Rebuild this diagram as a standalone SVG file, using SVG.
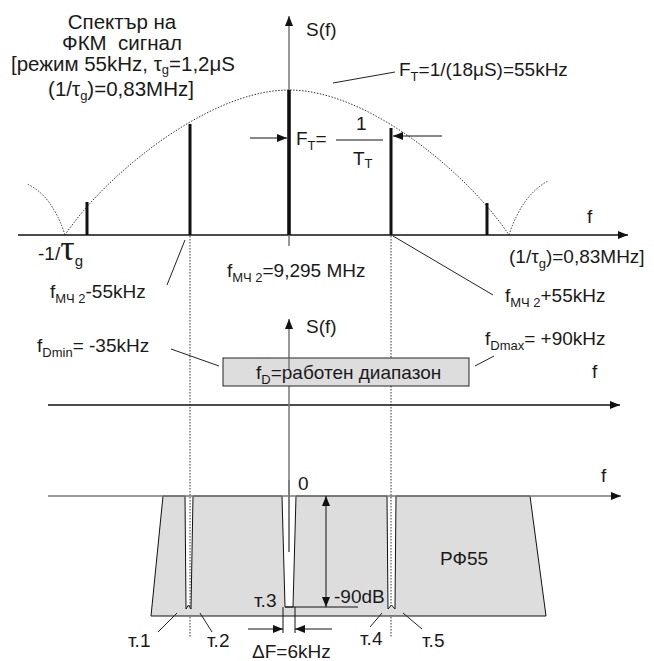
<svg xmlns="http://www.w3.org/2000/svg" width="654" height="661" viewBox="0 0 654 661">
<style>
text{font-family:"Liberation Sans",Arial,sans-serif;font-size:19px;fill:#1a1a1a}
.big{font-size:20.5px}
.sub{font-size:13px}
.ax{stroke:#111;stroke-width:1.3;fill:none}
.gax{stroke:#777;stroke-width:1.5;fill:none}
.dot{stroke:#333;stroke-width:1;stroke-dasharray:1.5 1.5;fill:none}
.spk{stroke:#111;stroke-width:3;fill:none}
.thin{stroke:#111;stroke-width:1;fill:none}
.lead{stroke:#222;stroke-width:1;fill:none}
</style>
<defs>
<marker id="ah" viewBox="0 0 10 8" refX="10" refY="4" markerWidth="10" markerHeight="8" markerUnits="userSpaceOnUse" orient="auto">
<path d="M0,0 L10,4 L0,8 Z" fill="#111"/>
</marker>
</defs>
<rect width="654" height="661" fill="#fff"/>

<g id="top-axes">
<line class="ax" x1="18" y1="235" x2="628" y2="235" marker-end="url(#ah)"/>
<line class="gax" x1="289" y1="246" x2="289" y2="16" marker-end="url(#ah)"/>
</g>
<g id="envelope">
<path class="dot" d="M65,235 C105,175 209,90 289,90 C369,90 469,175 509,235"/>
<path class="dot" d="M65,235 Q52,195 27,184"/>
<path class="dot" d="M509,235 Q522,195 548,181"/>
</g>
<g id="spectral-lines">
<line class="spk" x1="87" y1="235" x2="87" y2="202"/>
<line class="spk" x1="190" y1="235" x2="190" y2="124"/>
<line class="spk" x1="289" y1="235" x2="289" y2="90" style="stroke-width:3.6"/>
<line class="spk" x1="391" y1="235" x2="391" y2="128"/>
<line class="spk" x1="487" y1="235" x2="487" y2="203"/>
</g>
<g id="guides">
<line class="dot" x1="190" y1="236" x2="190" y2="638"/>
<line class="dot" x1="391" y1="236" x2="391" y2="638"/>
</g>
<g id="top-labels">
<text class="big" x="122" y="29" text-anchor="middle">Спектър на</text>
<text class="big" x="122" y="50" text-anchor="middle">ФКМ&#160; сигнал</text>
<text class="big" x="123" y="71" text-anchor="middle">[режим 55kHz, τ<tspan class="sub" dy="3">g</tspan><tspan dy="-3">=1,2μS</tspan></text>
<text class="big" x="121" y="96" text-anchor="middle">(1/τ<tspan class="sub" dy="4">g</tspan><tspan dy="-4">)=0,83MHz]</tspan></text>
<text x="306" y="36">S(f)</text>
<text x="399" y="76">F<tspan class="sub" dy="5">T</tspan><tspan dy="-5">=1/(18μS)=55kHz</tspan></text>
<line class="lead" x1="333" y1="83" x2="395" y2="72"/>
<text x="296" y="145">F<tspan class="sub" dy="5">T</tspan><tspan dy="-5">=</tspan></text>
<text x="356" y="130">1</text>
<line class="thin" x1="336" y1="140" x2="383" y2="140"/>
<text x="353" y="165">T<tspan class="sub" dy="3">T</tspan></text>
<line class="thin" x1="250" y1="138" x2="287" y2="138" marker-end="url(#ah)"/>
<line class="thin" x1="442" y1="136" x2="393" y2="136" marker-end="url(#ah)"/>
<text x="587" y="223">f</text>
<text x="38" y="260">-1/<tspan style="font-family:'Liberation Serif',serif;font-size:36px">τ</tspan><tspan class="sub" dx="0" dy="6" style="font-size:15px">g</tspan></text>
<text x="509" y="263">(1/τ<tspan class="sub" dy="5">g</tspan><tspan dy="-5">)=0,83MHz]</tspan></text>
<text x="227" y="277">f<tspan class="sub" dy="5">МЧ 2</tspan><tspan dy="-5">=9,295 MHz</tspan></text>
<text x="50" y="298">f<tspan class="sub" dy="5">МЧ 2</tspan><tspan dy="-5">-55kHz</tspan></text>
<line class="lead" x1="185" y1="240" x2="167" y2="285"/>
<text x="505" y="302">f<tspan class="sub" dy="5">МЧ 2</tspan><tspan dy="-5">+55kHz</tspan></text>
<line class="lead" x1="393" y1="236" x2="493" y2="295"/>
</g>

<g id="mid-axes">
<line class="ax" x1="48" y1="405" x2="620" y2="405" marker-end="url(#ah)"/>
<line class="gax" x1="289" y1="552" x2="289" y2="319" marker-end="url(#ah)"/>
</g>
<g id="range-box">
<rect x="223" y="358" width="246" height="28" fill="#ddd" stroke="#222" stroke-width="1"/>
<line class="gax" x1="289" y1="358" x2="289" y2="370"/>
<text x="256" y="379">f<tspan class="sub" dy="5">D</tspan><tspan dy="-5">=работен диапазон</tspan></text>
</g>
<g id="mid-labels">
<text x="306" y="333">S(f)</text>
<text x="37" y="352">f<tspan class="sub" dy="5">Dmin</tspan><tspan dy="-5">= -35kHz</tspan></text>
<line class="lead" x1="171" y1="349" x2="219" y2="366"/>
<text x="485" y="345">f<tspan class="sub" dy="5">Dmax</tspan><tspan dy="-5">= +90kHz</tspan></text>
<line class="lead" x1="475" y1="366" x2="494" y2="356"/>
<text x="592" y="378">f</text>
</g>

<g id="filter">
<path d="M163,496 L185,496 L186,609 L188.5,605 L191,609 L193,496 L282,496 L285,607 L293,607 L296,496 L387,496 L388,609 L391.5,605 L395,609 L396,496 L530,496 L546,616 L151,616 Z" fill="#ddd" stroke="#111" stroke-width="1"/>
<line class="gax" x1="48" y1="496" x2="621" y2="496" marker-end="url(#ah)"/>
<line class="gax" x1="289" y1="480" x2="289" y2="552"/>
<text x="440" y="565">РФ55</text>
</g>
<g id="dims">
<line class="thin" x1="285" y1="607" x2="358" y2="607"/>
<line class="thin" x1="326" y1="505" x2="326" y2="496" marker-end="url(#ah)"/>
<line class="thin" x1="326" y1="505" x2="326" y2="607" marker-end="url(#ah)"/>
<line class="thin" x1="283" y1="607" x2="283" y2="633"/>
<line class="thin" x1="295" y1="607" x2="295" y2="633"/>
<line class="thin" x1="248" y1="629" x2="283" y2="629" marker-end="url(#ah)"/>
<line class="thin" x1="332" y1="629" x2="295" y2="629" marker-end="url(#ah)"/>
</g>
<g id="bottom-labels">
<text x="298" y="490">0</text>
<text x="601" y="482">f</text>
<text x="334" y="603">-90dB</text>
<text x="254" y="607">т.3</text>
<text x="128" y="647">т.1</text>
<line class="lead" x1="158" y1="632" x2="177" y2="613"/>
<text x="207" y="647">т.2</text>
<line class="lead" x1="212" y1="632" x2="200" y2="613"/>
<text x="360" y="645">т.4</text>
<line class="lead" x1="370" y1="627" x2="382" y2="613"/>
<text x="422" y="647">т.5</text>
<line class="lead" x1="422" y1="629" x2="403" y2="613"/>
<text x="252" y="658">ΔF=6kHz</text>
</g>
</svg>
